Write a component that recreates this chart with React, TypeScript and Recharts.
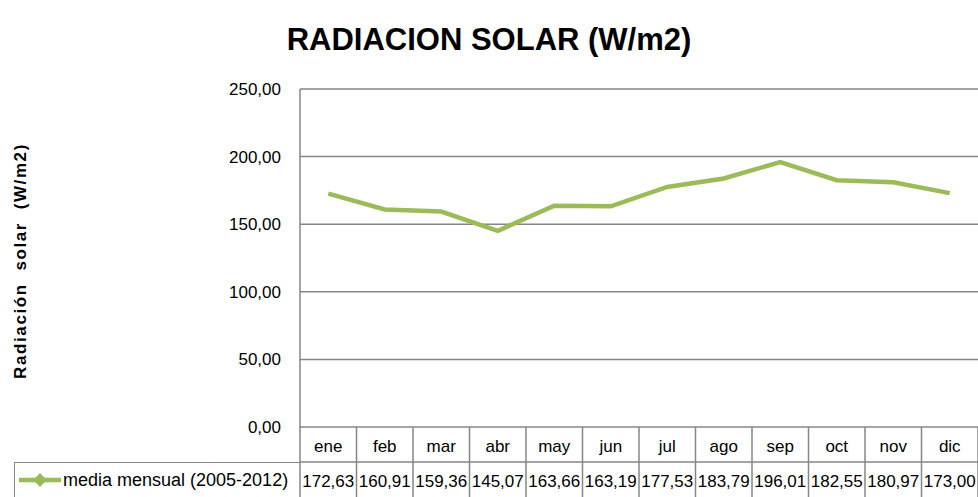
import { LineChart, Line, XAxis, YAxis, CartesianGrid } from 'recharts';

// Monthly mean solar radiation, 2005-2012
const MONTHS = ['ene', 'feb', 'mar', 'abr', 'may', 'jun', 'jul', 'ago', 'sep', 'oct', 'nov', 'dic'];
const RADIATION = [172.63, 160.91, 159.36, 145.07, 163.66, 163.19, 177.53, 183.79, 196.01, 182.55, 180.97, 173.0];
const Y_TICKS = [0, 50, 100, 150, 200, 250];
const SERIES_NAME = 'media mensual (2005-2012)';

const W = 978;
const H = 497;
const PLOT_LEFT = 300;
const PLOT_TOP = 89;
const PLOT_BOTTOM = 427;
const ROW_SPLIT = 462;
const BAND = (W - PLOT_LEFT) / MONTHS.length;

const LINE_COLOR = '#9BBB59';
const GRID = '#868686';
const FONT = '"Liberation Sans", Arial, sans-serif';

// "172.63" → "172,63"
const fmt = (v: number) => v.toFixed(2).replace('.', ',');

const data = MONTHS.map((m, i) => ({ month: m, value: RADIATION[i] }));

// X axis tick doubles as a data-table column: category row + value row
function TableTick({ x, payload }: { x: number; payload: { value: string } }) {
  const i = MONTHS.indexOf(payload.value);
  const half = BAND / 2;
  return (
    <g>
      {i === 0 && <line x1={x - half} y1={PLOT_BOTTOM} x2={x - half} y2={H} stroke={GRID} strokeWidth={1.5} />}
      <line x1={x + half} y1={PLOT_BOTTOM} x2={x + half} y2={H} stroke={GRID} strokeWidth={1.5} />
      <line x1={x - half} y1={ROW_SPLIT} x2={x + half} y2={ROW_SPLIT} stroke={GRID} strokeWidth={1.5} />
      <text x={x} y={452} textAnchor="middle" fontSize={17} fill="#000" fontFamily={FONT}>
        {payload.value}
      </text>
      <text x={x} y={487} textAnchor="middle" fontSize={17} fill="#000" fontFamily={FONT}>
        {fmt(RADIATION[i])}
      </text>
    </g>
  );
}

export default function App() {
  return (
    <div style={{ position: 'absolute', left: 0, top: 0, width: W, height: H, background: '#fff', fontFamily: FONT }}>
      <LineChart width={W} height={H} data={data} margin={{ top: PLOT_TOP, right: 0, bottom: 0, left: 0 }}>
        <CartesianGrid horizontal vertical={false} stroke={GRID} strokeWidth={1.5} />
        <XAxis
          dataKey="month"
          scale="band"
          height={H - PLOT_BOTTOM}
          axisLine={false}
          tickLine={false}
          interval={0}
          tick={TableTick as any}
        />
        <YAxis
          width={PLOT_LEFT}
          domain={[0, 250]}
          ticks={Y_TICKS}
          tickFormatter={fmt}
          tickLine={false}
          tickSize={8}
          tickMargin={11}
          axisLine={{ stroke: GRID, strokeWidth: 1.5 }}
          tick={{ fontSize: 17, fill: '#000', fontFamily: FONT }}
        />
        <Line
          type="linear"
          dataKey="value"
          name={SERIES_NAME}
          stroke={LINE_COLOR}
          strokeWidth={4.5}
          dot={false}
          isAnimationActive={false}
        />
      </LineChart>

      {/* title + rotated y label */}
      <svg width={W} height={H} style={{ position: 'absolute', left: 0, top: 0, pointerEvents: 'none' }}>
        <text x={489} y={50} textAnchor="middle" fontSize={31} fontWeight="bold" fill="#000" fontFamily={FONT}>
          RADIACION SOLAR (W/m2)
        </text>
        <text
          x={0}
          y={0}
          transform="translate(26,261) rotate(-90)"
          textAnchor="middle"
          fontSize={17}
          fontWeight="bold"
          letterSpacing={1.6}
          fill="#000"
          fontFamily={FONT}
          style={{ whiteSpace: 'pre' }}
        >
          {'Radiación  solar  (W/m2)'}
        </text>
      </svg>

      {/* legend cell of the data table */}
      <div
        style={{
          position: 'absolute',
          left: 14,
          top: ROW_SPLIT,
          width: PLOT_LEFT - 14,
          height: H - ROW_SPLIT,
          borderLeft: `1.5px solid ${GRID}`,
          borderTop: `1.5px solid ${GRID}`,
          boxSizing: 'border-box',
          display: 'flex',
          alignItems: 'center',
          fontSize: 18,
          color: '#000',
          whiteSpace: 'nowrap',
        }}
      >
        <svg width={46} height={20} style={{ marginLeft: 2 }}>
          <line x1={2} y1={10} x2={44} y2={10} stroke={LINE_COLOR} strokeWidth={4.5} />
          <polygon points="23,3 30,10 23,17 16,10" fill={LINE_COLOR} />
        </svg>
        <span>{SERIES_NAME}</span>
      </div>
    </div>
  );
}
